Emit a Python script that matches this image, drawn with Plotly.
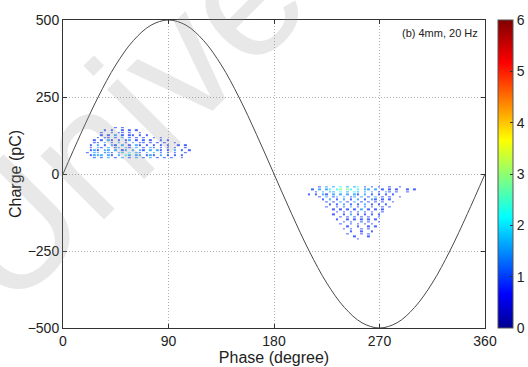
import plotly.graph_objects as go

# ---------------- data ----------------
# sinusoidal reference voltage read at 15 degree steps (pC scale)
ref_phase = [0, 15, 30, 45, 60, 75, 90, 105, 120, 135, 150, 165, 180,
             195, 210, 225, 240, 255, 270, 285, 300, 315, 330, 345, 360]
ref_charge = [0, 129, 250, 354, 433, 483, 500, 483, 433, 354, 250, 129, 0,
              -129, -250, -354, -433, -483, -500, -483, -433, -354, -250, -129, 0]

# positive half-cycle discharge cloud: phase bins and charge bins
pos_phase = [21 + 3 * i for i in range(30)]
pos_charge = [148, 140, 132, 124, 116, 108, 100, 92, 84, 76, 68, 60, 52]
# density levels per cell ('.' = no discharge), rows follow pos_charge
pos_counts = [
    "........1.1...................",
    ".....1.1..1.1.1...............",
    "....1..1.11.1..1..............",
    "....1.1.2.1.11.1.1............",
    "...1.11.1.2.1.1.1..1.1........",
    "..1.1.21.1.12.1.1.1..1.1......",
    "..11.2.1.2.1.2.11.1.1.1..1....",
    ".1.2.1.21.2.1.21.1.1.1.1..1.1.",
    ".1.21.2.12.21.2.1.21.1.1.1..1.",
    ".121.22.2.12.2.21.2.21.1.2.1.1",
    "1.22.121.22.3.21.2.2.1.1.1..1.",
    ".1222.21.2.32.22.121.2.1.1.1..",
    "..1.1.2.1.2.1.2.1.2.1.1.1..1..",
]

# negative half-cycle discharge cloud
neg_phase = [207 + 3 * i for i in range(32)]
neg_charge = [-44, -52, -60, -68, -76, -84, -92, -100, -108, -116, -124,
              -132, -140, -148, -156, -164, -172, -180, -188, -196, -204, -212]
neg_counts = [
    "....1.2.2.3.2.23.1.1.1..1..1....",
    "..1.2.23.34.43.3.22.2.1.1.1..1.1",
    "...1.2.22.3.2.32.2.2.1.21.1..1..",
    ".1.1.21.2.2.2.21.2.1.1.1.1......",
    "....1.2.12.2.12.2.1.2.1.1..1....",
    ".....1.2.1.2.1.2.1.21.1.1.......",
    "......1.1.2.1.2.1.1.1.1..1......",
    ".......1.1.2.1.1.2.1.1.1........",
    "......1..1.1.2.1.1.1..1.1.......",
    "........1.1.1.1.2.1.1.1.........",
    ".........1.1.1.1.1.1..1.........",
    "........1..1.2.1.1.1.1..........",
    "..........1.1.1.1.1..1..........",
    ".........1..1.1.1.1.1...........",
    "...........1.1..1.1..1..........",
    "..........1..1.1.1.1............",
    "............1..1..1.1...........",
    "...........1.1..1.1.............",
    ".............1..1..1............",
    "............1...1.1.............",
    "..............1...1.............",
    "...............1................",
]

level_value = {"1": 0.9, "2": 1.5, "3": 2.2, "4": 2.9}

x_ticks = [0, 90, 180, 270, 360]
y_ticks = [-500, -250, 0, 250, 500]
cbar_ticks = [0, 1, 2, 3, 4, 5, 6]


def to_grid(rows, ncols):
    grid = []
    for r in rows:
        r = (r + "." * ncols)[:ncols]
        grid.append([level_value.get(c) for c in r])
    return grid


jet = [[0.0, "#00008F"], [0.11, "#0000FF"], [0.36, "#00FFFF"],
       [0.61, "#FFFF00"], [0.86, "#FF0000"], [1.0, "#800000"]]

fig = go.Figure()

fig.add_trace(go.Heatmap(
    x=pos_phase, y=pos_charge, z=to_grid(pos_counts, len(pos_phase)),
    coloraxis="coloraxis", opacity=0.72, hoverongaps=False, xgap=1, ygap=1))
fig.add_trace(go.Heatmap(
    x=neg_phase, y=neg_charge, z=to_grid(neg_counts, len(neg_phase)),
    coloraxis="coloraxis", opacity=0.72, hoverongaps=False, xgap=1, ygap=1))

fig.add_trace(go.Scatter(
    x=ref_phase, y=ref_charge, mode="lines",
    line=dict(color="#4a4a4a", width=1, shape="spline", smoothing=1.0),
    showlegend=False, hoverinfo="skip"))

font_family = "Liberation Sans, Arial, sans-serif"

fig.update_layout(
    width=528, height=367,
    margin=dict(l=63, r=43, t=20, b=39),
    paper_bgcolor="white", plot_bgcolor="white",
    font=dict(family=font_family, color="#222222", size=14),
    showlegend=False,
    coloraxis=dict(
        colorscale=jet, cmin=0, cmax=6,
        colorbar=dict(
            xref="container", x=498 / 528, xanchor="left", xpad=0, ypad=0,
            thickness=15, len=1.0, y=0.5, yanchor="middle",
            tickvals=cbar_ticks, ticks="inside", ticklen=3,
            tickcolor="#333333",
            outlinewidth=1, outlinecolor="#555555",
            tickfont=dict(size=14, family=font_family, color="#222222"),
        ),
    ),
    annotations=[
        dict(text="Universiti", x=0.358, y=0.98, xref="paper", yref="paper",
             xanchor="center", yanchor="middle",
             showarrow=False, textangle=-45,
             font=dict(size=170, color="rgba(150,150,150,0.22)",
                       family=font_family)),
        dict(text="(b) 4mm, 20 Hz", x=0.988, y=0.957, xref="paper",
             yref="paper", xanchor="right", yanchor="middle", showarrow=False,
             font=dict(size=11, color="#222222", family=font_family)),
    ],
)

fig.update_xaxes(
    range=[0, 360], tickvals=x_ticks, ticks="inside", ticklen=4,
    tickcolor="#333333", showline=True, linecolor="#333333", linewidth=1,
    mirror="allticks", showgrid=True, gridcolor="#b0b0b0", griddash="1px,2px",
    gridwidth=1, zeroline=False, automargin=False,
    title=dict(text="Phase (degree)", font=dict(size=16), standoff=0),
    tickfont=dict(size=14),
)
fig.update_yaxes(
    range=[-500, 500], tickvals=y_ticks, ticks="inside", ticklen=4,
    tickcolor="#333333", showline=True, linecolor="#333333", linewidth=1,
    mirror="allticks", showgrid=True, gridcolor="#b0b0b0", griddash="1px,2px",
    gridwidth=1, zeroline=False, automargin=False,
    title=dict(text="Charge (pC)", font=dict(size=16), standoff=2),
    tickfont=dict(size=14),
)

fig.write_html("out.html")
